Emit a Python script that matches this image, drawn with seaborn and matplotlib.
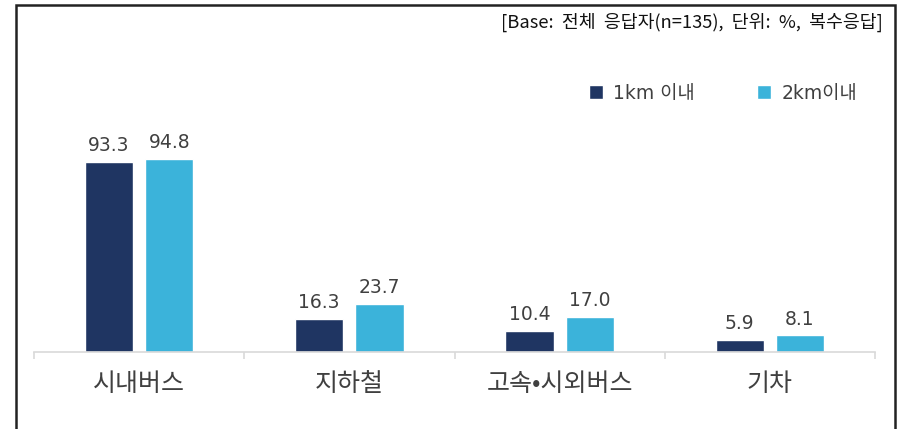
import matplotlib
matplotlib.use("Agg")
import matplotlib.pyplot as plt
from matplotlib.patches import Rectangle
import seaborn as sns
import pandas as pd

categories = ["시내버스", "지하철", "고속•시외버스", "기차"]
series_names = ["1km 이내", "2km이내"]
values_1km = [93.3, 16.3, 10.4, 5.9]
values_2km = [94.8, 23.7, 17.0, 8.1]
note_text = "[Base:  전체  응답자(n=135),  단위:  %,  복수응답]"

colors = ["#1F3562", "#3BB3DA"]

df = pd.DataFrame({
    "cat": categories * 2,
    "series": [series_names[0]] * 4 + [series_names[1]] * 4,
    "value": values_1km + values_2km,
})

sns.set_theme(style="white")
plt.rcParams["font.family"] = ["Noto Sans CJK KR", "DejaVu Sans"]

fig = plt.figure(figsize=(9, 4.29), dpi=100)
ax = fig.add_axes([34 / 900, 1 - 352 / 429, 841 / 900, 252 / 429])

sns.barplot(data=df, x="cat", y="value", hue="series", order=categories,
            hue_order=series_names, palette=colors, width=0.574, gap=0.2,
            saturation=1, ax=ax, legend=True)

ax.set_ylim(0, 252 / 2.04)
ax.set_xlim(-0.5, 3.5)
for c in ax.containers:
    labels = ax.bar_label(c, fmt="%.1f", padding=5, fontsize=13.5, color="#404040")
    for t in labels:
        t.set_fontfamily("DejaVu Sans")

for s in ["top", "right", "left"]:
    ax.spines[s].set_visible(False)
ax.spines["bottom"].set_color("#D9D9D9")
ax.spines["bottom"].set_linewidth(1.2)
ax.set_yticks([])
ax.set_xlabel("")
ax.set_ylabel("")
ax.set_xticks(range(4))
ax.set_xticklabels(categories, fontsize=18, color="#404040")
for t in ax.get_xticklabels():
    t.set_fontfamily(["Noto Sans CJK KR", "DejaVu Sans"])
ax.tick_params(axis="x", which="major", length=0, pad=14)
ax.set_xticks([-0.5, 0.5, 1.5, 2.5, 3.5], minor=True)
ax.tick_params(axis="x", which="minor", length=5, color="#D9D9D9", width=1.2,
               direction="out", bottom=True)

sns.move_legend(ax, loc="center", bbox_to_anchor=(723 / 900, 1 - 93 / 429),
                bbox_transform=fig.transFigure, ncol=2, frameon=False,
                title=None, handlelength=0.75, handleheight=0.75,
                handletextpad=0.55, columnspacing=3.3,
                prop={"family": ["DejaVu Sans", "Noto Sans CJK KR"], "size": 13.5})
for t in ax.get_legend().get_texts():
    t.set_color("#404040")

fig.text(883 / 900, 1 - 22 / 429, note_text, ha="right", va="center",
         fontsize=13.2, color="#111111", family=["Noto Sans CJK KR", "DejaVu Sans"])

fig.add_artist(Rectangle((16 / 900, -0.1), 879 / 900, 1.1 - 5 / 429,
                         transform=fig.transFigure, fill=False,
                         edgecolor="#222222", linewidth=1.8))

fig.savefig("out.png", dpi=100)
